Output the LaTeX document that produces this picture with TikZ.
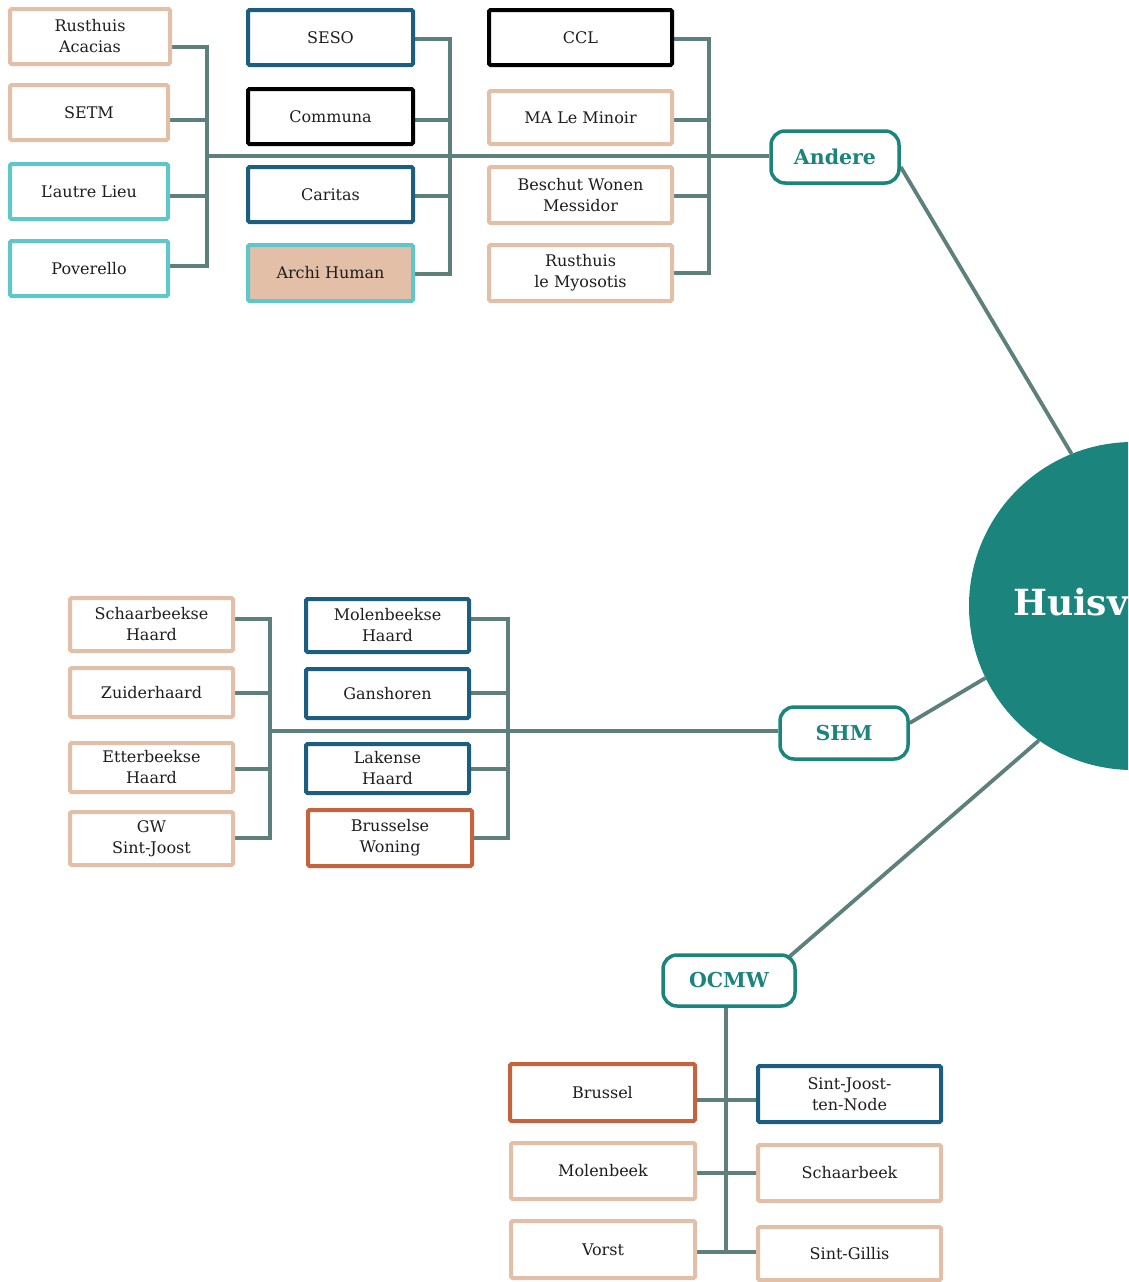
\documentclass[tikz,border=0pt]{standalone}
\usepackage{fontspec}
\setmainfont{DejaVu Serif}
\usetikzlibrary{calc}
\pgfdeclarelayer{bg}
\pgfsetlayers{bg,main}
\definecolor{peachc}{HTML}{E3BFA8}
\definecolor{cyanc}{HTML}{5FC7C9}
\definecolor{bluec}{HTML}{1C5E7F}
\definecolor{orangec}{HTML}{C5633F}
\definecolor{connc}{HTML}{5D807C}
\definecolor{tealc}{HTML}{1B847D}
\definecolor{txtc}{HTML}{1E1E1E}
\begin{document}
\begin{tikzpicture}[x=1pt,y=-1pt,
  box/.style={draw,line width=4pt,fill=white,inner sep=0pt,align=center,
    font=\fontsize{16}{21}\selectfont,text=txtc,rounded corners=1.5pt},
  pbox/.style={box,draw=peachc},
  cbox/.style={box,draw=cyanc},
  bbox/.style={box,draw=bluec},
  kbox/.style={box,draw=black},
  obox/.style={box,draw=orangec},
  cat/.style={draw=tealc,line width=3.5pt,rounded corners=14pt,fill=white,inner sep=0pt,
    font=\bfseries\fontsize{20.5}{23}\selectfont,text=tealc},
  conn/.style={draw=connc,line width=3.8pt},
]
\useasboundingbox (0,0) rectangle (1128,1282);
\clip (0,0) rectangle (1128,1282);

% hub
\node[circle,fill=tealc,minimum size=328pt,inner sep=0pt,text=white,
  font=\bfseries\fontsize{36}{40}\selectfont] (hub) at (1133,606) {Huisvesting};

% Andere group
\node[pbox,minimum width=160pt,minimum height=55pt] (acacias) at (90,36.5) {Rusthuis\\Acacias};
\node[pbox,minimum width=158pt,minimum height=55pt] (setm) at (89,112.5) {SETM};
\node[cbox,minimum width=158pt,minimum height=55pt] (lieu) at (89,191.5) {L'autre Lieu};
\node[cbox,minimum width=158pt,minimum height=55pt] (pover) at (89,268.5) {Poverello};

\node[bbox,minimum width=165pt,minimum height=55pt] (seso) at (330.5,37.5) {SESO};
\node[kbox,minimum width=165pt,minimum height=55pt] (communa) at (330.5,116.5) {Communa};
\node[bbox,minimum width=165pt,minimum height=55pt] (caritas) at (330.5,194.5) {Caritas};
\node[cbox,fill=peachc,minimum width=165pt,minimum height=56pt] (archi) at (330.5,273) {Archi Human};

\node[kbox,minimum width=183pt,minimum height=55pt] (ccl) at (580.5,37.5) {CCL};
\node[pbox,minimum width=183pt,minimum height=53pt] (minoir) at (580.5,117.5) {MA Le Minoir};
\node[pbox,minimum width=183pt,minimum height=56pt] (messidor) at (580.5,195) {Beschut Wonen\\Messidor};
\node[pbox,minimum width=183pt,minimum height=56pt] (myosotis) at (580.5,273) {Rusthuis\\le Myosotis};

\node[cat,minimum width=128pt,minimum height=52pt] (andere) at (835,157) {Andere};

% SHM group
\node[pbox,minimum width=163pt,minimum height=53pt] (schaarH) at (151.5,624.5) {Schaarbeekse\\Haard};
\node[pbox,minimum width=163pt,minimum height=49pt] (zuider) at (151.5,692.5) {Zuiderhaard};
\node[pbox,minimum width=163pt,minimum height=49pt] (etterH) at (151.5,767.5) {Etterbeekse\\Haard};
\node[pbox,minimum width=163pt,minimum height=53pt] (gwsj) at (151.5,838.5) {GW\\Sint-Joost};

\node[bbox,minimum width=163pt,minimum height=53pt] (molH) at (387.5,625.5) {Molenbeekse\\Haard};
\node[bbox,minimum width=163pt,minimum height=49pt] (gansh) at (387.5,693.5) {Ganshoren};
\node[bbox,minimum width=163pt,minimum height=49pt] (lakH) at (387.5,768.5) {Lakense\\Haard};
\node[obox,minimum width=164pt,minimum height=56pt] (bw) at (390,838) {Brusselse\\Woning};

\node[cat,minimum width=128pt,minimum height=52pt] (shm) at (844,733) {SHM};

% OCMW group
\node[cat,minimum width=132pt,minimum height=51pt] (ocmw) at (729,980.5) {OCMW};
\node[obox,minimum width=185pt,minimum height=57pt] (brussel) at (602.5,1092.5) {Brussel};
\node[bbox,minimum width=183pt,minimum height=56pt] (sjtn) at (849.5,1094) {Sint-Joost-\\ten-Node};
\node[pbox,minimum width=184pt,minimum height=56pt] (molen) at (603,1171) {Molenbeek};
\node[pbox,minimum width=183pt,minimum height=56pt] (schaar) at (849.5,1173) {Schaarbeek};
\node[pbox,minimum width=184pt,minimum height=57pt] (vorst) at (603,1249.5) {Vorst};
\node[pbox,minimum width=183pt,minimum height=53pt] (gillis) at (849.5,1253.5) {Sint-Gillis};

\begin{pgfonlayer}{bg}
% Andere brackets
\coordinate (a1) at (207,47); \coordinate (a2) at (207,120);
\coordinate (a3) at (207,196); \coordinate (a4) at (207,266);
\coordinate (aj) at (207,156);
\draw[conn] (acacias.east|-a1) -- (a1) -- (a4) -- (pover.east|-a4);
\draw[conn] (setm.east|-a2) -- (a2);
\draw[conn] (lieu.east|-a3) -- (a3);
\coordinate (b1) at (450,39); \coordinate (b2) at (450,120);
\coordinate (b3) at (450,196); \coordinate (b4) at (450,274);
\draw[conn] (seso.east|-b1) -- (b1) -- (b4) -- (archi.east|-b4);
\draw[conn] (communa.east|-b2) -- (b2);
\draw[conn] (caritas.east|-b3) -- (b3);
\coordinate (c1) at (709,39); \coordinate (c2) at (709,120);
\coordinate (c3) at (709,196); \coordinate (c4) at (709,273);
\draw[conn] (ccl.east|-c1) -- (c1) -- (c4) -- (myosotis.east|-c4);
\draw[conn] (minoir.east|-c2) -- (c2);
\draw[conn] (messidor.east|-c3) -- (c3);
\draw[conn] (aj) -- (andere.west|-aj);
% SHM brackets
\coordinate (d1) at (270,619); \coordinate (d2) at (270,693);
\coordinate (d3) at (270,769); \coordinate (d4) at (270,838);
\coordinate (dj) at (270,731);
\draw[conn] (schaarH.east|-d1) -- (d1) -- (d4) -- (gwsj.east|-d4);
\draw[conn] (zuider.east|-d2) -- (d2);
\draw[conn] (etterH.east|-d3) -- (d3);
\coordinate (e1) at (508,619); \coordinate (e2) at (508,693);
\coordinate (e3) at (508,769); \coordinate (e4) at (508,838);
\draw[conn] (molH.east|-e1) -- (e1) -- (e4) -- (bw.east|-e4);
\draw[conn] (gansh.east|-e2) -- (e2);
\draw[conn] (lakH.east|-e3) -- (e3);
\draw[conn] (dj) -- (shm.west|-dj);
% OCMW tree
\coordinate (f1) at (726,1100); \coordinate (f2) at (726,1173); \coordinate (f3) at (726,1252);
\draw[conn] (ocmw.south-|f1) -- (f3);
\draw[conn] (brussel.east|-f1) -- (sjtn.west|-f1);
\draw[conn] (molen.east|-f2) -- (schaar.west|-f2);
\draw[conn] (vorst.east|-f3) -- (gillis.west|-f3);
% hub links
\draw[conn] ([yshift=-10pt]andere.east) -- (hub.112);
\draw[conn] ([yshift=10pt]shm.east) -- (hub.206);
\draw[conn] ([xshift=-8pt,yshift=-4pt]ocmw.north east) -- (hub.235);
\end{pgfonlayer}
\end{tikzpicture}
\end{document}
